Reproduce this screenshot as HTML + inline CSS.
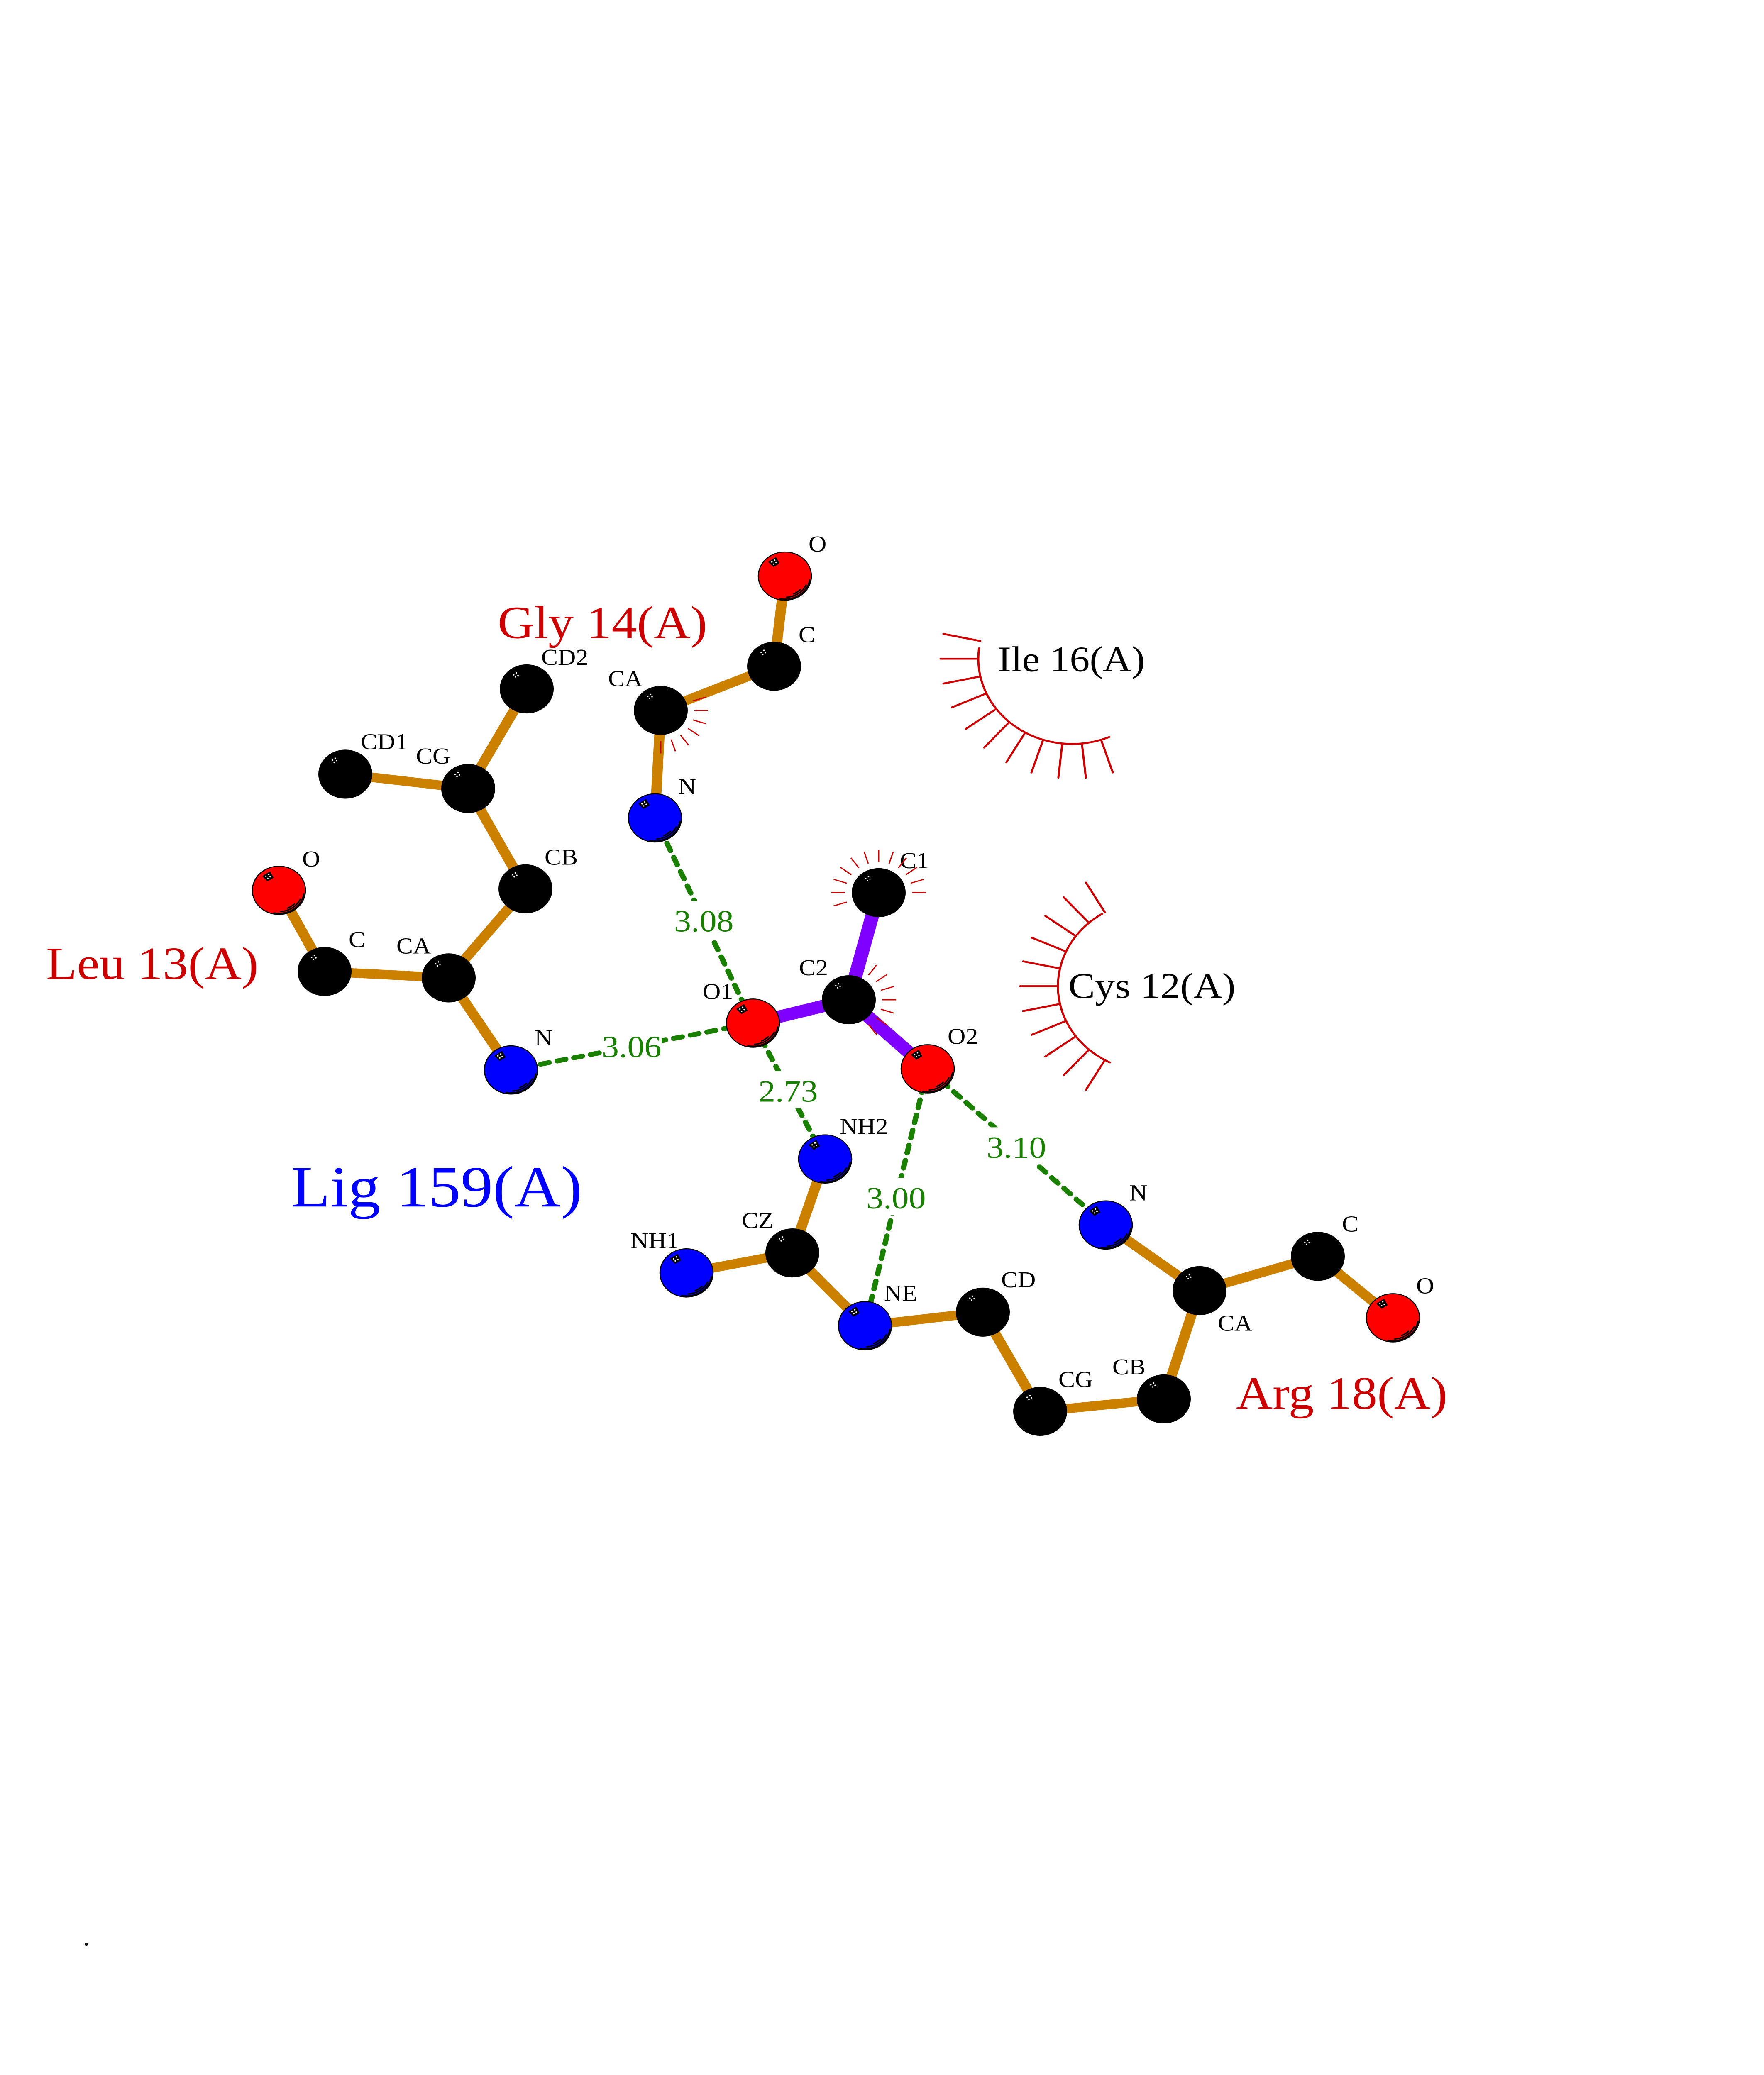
<!DOCTYPE html>
<html>
<head>
<meta charset="utf-8">
<title>Ligand interaction diagram</title>
<style>
html,body{margin:0;padding:0;background:#fff;width:100%;height:100%;overflow:hidden}
svg{display:block;width:100vw;height:100vh}
text{font-family:"Liberation Serif",serif}
.a{font-size:60px;fill:#000}
.d{font-size:82px;fill:#1a8000}
.r{font-size:122px;fill:#cc0000}
.k{font-size:96px;fill:#000}
.or{stroke:#cc8000;stroke-width:25;fill:none}
.pu{stroke:#8000ff;stroke-width:33;fill:none}
.gr{stroke:#1a8000;stroke-width:13;stroke-linecap:round;stroke-dasharray:21 20;fill:none}
.big{stroke:#cc0000;stroke-width:5;stroke-linecap:round;fill:none}
.tk{stroke:#cc0000;stroke-width:3;fill:none}
</style>
</head>
<body>
<svg xmlns="http://www.w3.org/2000/svg" viewBox="0 0 4250 5500" preserveAspectRatio="none">
<defs>
  <g id="dots" fill="#fff">
    <circle cx="-31.3" cy="-37.3" r="1.8"/><circle cx="-24.5" cy="-42.3" r="1.8"/>
    <circle cx="-21" cy="-36" r="1.8"/><circle cx="-27" cy="-31.8" r="1.8"/>
  </g>
  <g id="shade">
    <polygon points="-38,-37.3 -22,-48.3 -14.7,-34 -27.3,-26" fill="#000" stroke="#000" stroke-width="3" stroke-linejoin="round"/>
    <use href="#dots"/>
    <g fill="none" stroke="#000" stroke-width="3.5" stroke-linecap="round">
      <path d="M60 10A61 61 0 0 1 -12 60"/>
      <path d="M51 24A56 56 0 0 1 4 56"/>
      <path d="M37 36A51 51 0 0 1 21 47"/>
    </g>
  </g>
  <g id="K"><circle r="65" fill="#000"/><use href="#dots"/></g>
  <g id="R"><circle r="64" fill="#f00" stroke="#000" stroke-width="2.5"/><use href="#shade"/></g>
  <g id="B"><circle r="64" fill="#00f" stroke="#000" stroke-width="2.5"/><use href="#shade"/></g>
  <line id="t" class="tk" x1="81" y1="0" x2="114" y2="0"/>
  <line id="s" class="big" x1="-226" y1="0" x2="-317" y2="0"/>
</defs>

<!-- orange bonds -->
<g class="or">
  <line x1="1891" y1="1527" x2="1865" y2="1766"/>
  <line x1="1865" y1="1766" x2="1592" y2="1883"/>
  <line x1="1592" y1="1883" x2="1578" y2="2168"/>
  <line x1="672" y1="2360" x2="782" y2="2575"/>
  <line x1="782" y1="2575" x2="1081" y2="2592"/>
  <line x1="1081" y1="2592" x2="1266" y2="2356"/>
  <line x1="1266" y1="2356" x2="1128" y2="2090"/>
  <line x1="1128" y1="2090" x2="832" y2="2052"/>
  <line x1="1128" y1="2090" x2="1269" y2="1826"/>
  <line x1="1081" y1="2592" x2="1231" y2="2836"/>
  <line x1="1988" y1="3072" x2="1909" y2="3321"/>
  <line x1="1909" y1="3321" x2="1654" y2="3374"/>
  <line x1="1909" y1="3321" x2="2084" y2="3514"/>
  <line x1="2084" y1="3514" x2="2368" y2="3478"/>
  <line x1="2368" y1="3478" x2="2506" y2="3741"/>
  <line x1="2506" y1="3741" x2="2804" y2="3708"/>
  <line x1="2804" y1="3708" x2="2890" y2="3421"/>
  <line x1="2890" y1="3421" x2="2664" y2="3247"/>
  <line x1="2890" y1="3421" x2="3175" y2="3330"/>
  <line x1="3175" y1="3330" x2="3356" y2="3493"/>
</g>
<!-- purple bonds -->
<g class="pu">
  <line x1="1814" y1="2712" x2="2045" y2="2650"/>
  <line x1="2045" y1="2650" x2="2117" y2="2366"/>
  <line x1="2045" y1="2650" x2="2235" y2="2833"/>
</g>
<!-- hydrogen bonds -->
<g class="gr">
  <line x1="1607" y1="2235" x2="1790" y2="2657"/>
  <line x1="1302.4" y1="2820.8" x2="1755" y2="2724.5"/>
  <line x1="1833.8" y1="2753" x2="1966" y2="3027"/>
  <line x1="2225.6" y1="2875.5" x2="2096" y2="3460"/>
  <line x1="2268.5" y1="2865.3" x2="2624.4" y2="3208.8"/>
</g>
<!-- distance labels with white backing -->
<g fill="#fff">
  <rect x="1624" y="2388" width="144" height="99"/>
  <rect x="1450" y="2721" width="144" height="99"/>
  <rect x="1827" y="2839" width="144" height="99"/>
  <rect x="2087" y="3122" width="144" height="99"/>
  <rect x="2377" y="2988" width="144" height="99"/>
</g>
<text class="d" x="1624" y="2469">3.08</text>
<text class="d" x="1450" y="2802">3.06</text>
<text class="d" x="1827" y="2920">2.73</text>
<text class="d" x="2087" y="3203">3.00</text>
<text class="d" x="2377" y="3069">3.10</text>

<!-- atoms -->
<use href="#R" x="1891" y="1527"/>
<use href="#K" x="1865" y="1766"/>
<use href="#K" x="1592" y="1883"/>
<use href="#B" x="1578" y="2168"/>
<use href="#R" x="672" y="2360"/>
<use href="#K" x="782" y="2575"/>
<use href="#K" x="1081" y="2592"/>
<use href="#K" x="1266" y="2356"/>
<use href="#K" x="1128" y="2090"/>
<use href="#K" x="832" y="2052"/>
<use href="#K" x="1269" y="1826"/>
<use href="#B" x="1231" y="2836"/>
<use href="#R" x="1814" y="2712"/>
<use href="#K" x="2045" y="2650"/>
<use href="#K" x="2117" y="2366"/>
<use href="#R" x="2235" y="2833"/>
<use href="#B" x="1988" y="3072"/>
<use href="#K" x="1909" y="3321"/>
<use href="#B" x="1654" y="3374"/>
<use href="#B" x="2084" y="3514"/>
<use href="#K" x="2368" y="3478"/>
<use href="#K" x="2506" y="3741"/>
<use href="#K" x="2804" y="3708"/>
<use href="#K" x="2890" y="3421"/>
<use href="#B" x="2664" y="3247"/>
<use href="#K" x="3175" y="3330"/>
<use href="#R" x="3356" y="3493"/>

<!-- atom labels -->
<g class="a">
  <text class="a" x="1948" y="1462">O</text>
  <text class="a" x="1924" y="1702">C</text>
  <text class="a" x="1465" y="1819">CA</text>
  <text class="a" x="1634" y="2105">N</text>
  <text class="a" x="1304" y="1762">CD2</text>
  <text class="a" x="869" y="1986">CD1</text>
  <text class="a" x="1002" y="2024">CG</text>
  <text class="a" x="1312" y="2292">CB</text>
  <text class="a" x="728" y="2297">O</text>
  <text class="a" x="840" y="2510">C</text>
  <text class="a" x="955" y="2527">CA</text>
  <text class="a" x="1288" y="2771">N</text>
  <text class="a" x="2168" y="2301">C1</text>
  <text class="a" x="1925" y="2585">C2</text>
  <text class="a" x="1693" y="2648">O1</text>
  <text class="a" x="2283" y="2767">O2</text>
  <text class="a" x="2023" y="3006">NH2</text>
  <text class="a" x="1787" y="3255">CZ</text>
  <text class="a" x="1519" y="3309">NH1</text>
  <text class="a" x="2130" y="3448">NE</text>
  <text class="a" x="2412" y="3412">CD</text>
  <text class="a" x="2550" y="3676">CG</text>
  <text class="a" x="2680" y="3643">CB</text>
  <text class="a" x="2934" y="3527">CA</text>
  <text class="a" x="3233" y="3264">C</text>
  <text class="a" x="3412" y="3428">O</text>
  <text class="a" x="2721" y="3182">N</text>
</g>

<!-- small contact ticks -->
<g transform="translate(2117 2366)">
  <use href="#t"/><use href="#t" transform="rotate(-18)"/><use href="#t" transform="rotate(-36)"/><use href="#t" transform="rotate(-54)"/>
  <use href="#t" transform="rotate(-72)"/><use href="#t" transform="rotate(-90)"/><use href="#t" transform="rotate(-108)"/><use href="#t" transform="rotate(-126)"/>
  <use href="#t" transform="rotate(-144)"/><use href="#t" transform="rotate(-162)"/><use href="#t" transform="rotate(-180)"/><use href="#t" transform="rotate(-198)"/>
</g>
<g transform="translate(2045 2650)">
  <use href="#t" transform="rotate(-54)"/><use href="#t" transform="rotate(-36)"/><use href="#t" transform="rotate(-18)"/><use href="#t"/>
  <use href="#t" transform="rotate(18)"/><use href="#t" transform="rotate(36)"/><use href="#t" transform="rotate(54)"/>
</g>
<g transform="translate(1592 1883)">
  <use href="#t" transform="rotate(-18)"/><use href="#t"/><use href="#t" transform="rotate(18)"/><use href="#t" transform="rotate(36)"/>
  <use href="#t" transform="rotate(54)"/><use href="#t" transform="rotate(72)"/><use href="#t" transform="rotate(90)"/>
</g>

<!-- Ile 16 -->
<path class="big" d="M2358.7 1718.5A226 226 0 0 0 2672.7 1953.4"/>
<g transform="translate(2583 1746)">
  <use href="#s" transform="rotate(12)"/><use href="#s"/><use href="#s" transform="rotate(-12)"/><use href="#s" transform="rotate(-24)"/>
  <use href="#s" transform="rotate(-36)"/><use href="#s" transform="rotate(-48)"/><use href="#s" transform="rotate(-60)"/><use href="#s" transform="rotate(-72)"/>
  <use href="#s" transform="rotate(-84)"/><use href="#s" transform="rotate(-96)"/><use href="#s" transform="rotate(-108)"/>
</g>
<!-- Cys 12 -->
<path class="big" d="M2655.2 2422.3A226 226 0 0 0 2674.2 2816.3"/>
<g transform="translate(2775 2614)">
  <use href="#s" transform="rotate(60)"/><use href="#s" transform="rotate(48)"/><use href="#s" transform="rotate(36)"/><use href="#s" transform="rotate(24)"/>
  <use href="#s" transform="rotate(12)"/><use href="#s"/><use href="#s" transform="rotate(-12)"/><use href="#s" transform="rotate(-24)"/>
  <use href="#s" transform="rotate(-36)"/><use href="#s" transform="rotate(-48)"/><use href="#s" transform="rotate(-60)"/>
</g>

<!-- residue labels -->
<text class="r" x="1199" y="1691">Gly 14(A)</text>
<text class="r" x="111" y="2595">Leu 13(A)</text>
<text class="r" x="2978" y="3734">Arg 18(A)</text>
<text x="701" y="3198" font-size="155" fill="#0000ff">Lig 159(A)</text>
<text class="k" x="2404" y="1779">Ile 16(A)</text>
<text class="k" x="2574" y="2645">Cys 12(A)</text>
<text x="200.5" y="5156.5" font-size="60" fill="#000">.</text>
</svg>
</body>
</html>
